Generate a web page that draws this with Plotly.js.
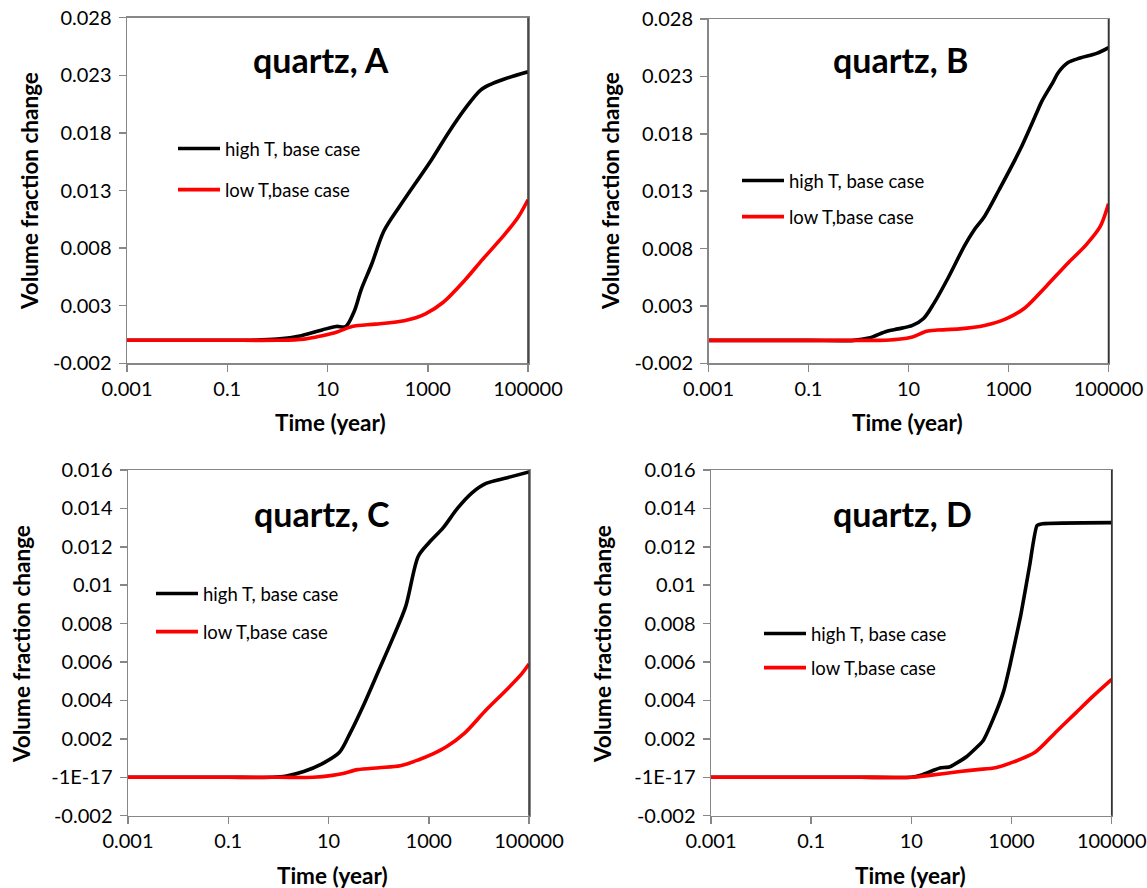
<!DOCTYPE html>
<html>
<head>
<meta charset="utf-8">
<script src="https://cdn.plot.ly/plotly-3.0.1.min.js"></script>
<style>html,body{margin:0;padding:0;background:#fff;}#chart{width:1147px;height:888px;}</style>
</head>
<body>
<div id="chart"></div>
<script>
// ---- data (time in years, volume fraction change) ----
const panelTitles = ["quartz, A", "quartz, B", "quartz, C", "quartz, D"];
const seriesNames = ["high T, base case", "low T,base case"];

const tA_high = [0.001, 0.01, 0.1, 0.3, 1, 3, 7.8, 15, 23, 34, 47, 76, 134, 282, 1200, 2570, 6000, 11200, 17600, 35000, 100000];
const vA_high = [0, 0, 0, 0, 0.0001, 0.0004, 0.0009, 0.0012, 0.0012, 0.0025, 0.0044, 0.0066, 0.0095, 0.0117, 0.0157, 0.0180, 0.0203, 0.0217, 0.0222, 0.0227, 0.0233];
const tA_low = [0.001, 0.01, 0.1, 1, 3.4, 7.8, 15, 31, 91, 340, 900, 2040, 5450, 12300, 33000, 64000, 100000];
const vA_low = [0, 0, 0, 0, 0.0001, 0.0004, 0.0007, 0.0012, 0.0014, 0.0017, 0.0023, 0.0033, 0.0052, 0.0070, 0.0091, 0.0107, 0.0122];

const tB_high = [0.001, 0.01, 0.1, 0.8, 1.6, 3.7, 6.2, 12, 20, 32, 63, 134, 204, 331, 646, 1700, 3720, 4600, 7770, 9770, 15500, 27000, 58000, 100000];
const vB_high = [0, 0, 0, 0, 0.0002, 0.0008, 0.0010, 0.0013, 0.0019, 0.0032, 0.0055, 0.0083, 0.0096, 0.0108, 0.0131, 0.0166, 0.0199, 0.0208, 0.0225, 0.0233, 0.0242, 0.0246, 0.0250, 0.0255];
const tB_low = [0.001, 0.01, 0.1, 1, 2.7, 6.2, 12, 23, 38, 105, 331, 910, 2090, 5650, 15200, 35300, 68000, 100000];
const vB_low = [0, 0, 0, 0, 0, 0.0001, 0.0003, 0.0008, 0.0009, 0.0010, 0.0013, 0.0019, 0.0028, 0.0047, 0.0067, 0.0083, 0.0099, 0.0119];

const tC_high = [0.001, 0.01, 0.1, 0.75, 1.45, 3.2, 7.4, 16.6, 27, 53, 102, 196, 347, 616, 1000, 1950, 3730, 7200, 13900, 37000, 100000];
const vC_high = [0, 0, 0, 0, 0.00007, 0.0003, 0.0007, 0.0013, 0.0023, 0.0039, 0.0056, 0.0073, 0.0089, 0.0115, 0.0122, 0.0130, 0.0140, 0.0148, 0.0153, 0.0156, 0.0159];
const tC_low = [0.001, 0.01, 0.1, 1, 5, 12, 19.5, 38, 102, 270, 616, 1180, 2290, 5190, 13900, 37000, 72000, 100000];
const vC_low = [0, 0, 0, 0, 0, 0.0001, 0.0002, 0.0004, 0.0005, 0.0006, 0.0009, 0.0012, 0.0016, 0.0023, 0.0035, 0.0046, 0.0054, 0.0059];

const tD_high = [0.001, 0.01, 0.1, 1, 10, 16, 37, 59, 126, 270, 425, 700, 925, 1520, 2290, 3220, 4150, 100000];
const vD_high = [0, 0, 0, 0, 0, 0.00012, 0.00048, 0.00055, 0.00107, 0.0019, 0.0030, 0.0045, 0.0058, 0.0084, 0.0110, 0.0131, 0.0132, 0.01326];
const tD_low = [0.001, 0.01, 0.1, 1, 10, 23, 93, 210, 480, 1100, 2950, 8000, 18300, 41500, 100000];
const vD_low = [0, 0, 0, 0, 0, 0.0001, 0.0003, 0.0004, 0.0005, 0.0008, 0.0013, 0.0024, 0.0033, 0.0042, 0.0051];

const xTickVals = [0.001, 0.1, 10, 1000, 100000];
const xTickText = ["0.001", "0.1", "10", "1000", "100000"];
const yTickValsAB = [-0.002, 0.003, 0.008, 0.013, 0.018, 0.023, 0.028];
const yTickTextAB = ["-0.002", "0.003", "0.008", "0.013", "0.018", "0.023", "0.028"];
const yTickValsCD = [-0.002, 0, 0.002, 0.004, 0.006, 0.008, 0.01, 0.012, 0.014, 0.016];
const yTickTextCD = ["-0.002", "-1E-17", "0.002", "0.004", "0.006", "0.008", "0.01", "0.012", "0.014", "0.016"];

const xTitle = "Time (year)";
const yTitle = "Volume fraction change";

// ---- figure ----
const W = 1147, H = 888;
const FONT = "Lato, 'Open Sans', sans-serif";
const px = v => v / W;
const py = v => 1 - v / H;

const panels = [
  {t: [tA_high, tA_low], v: [vA_high, vA_low], dom: [127, 528, 17.7, 363.3], yv: yTickValsAB, yt: yTickTextAB, yr: [-0.002, 0.028], title: [321, 60], leg: [173, 130], gap: 14, sm: 0.9, xt: [330, 423], ytl: [30, 191]},
  {t: [tB_high, tB_low], v: [vB_high, vB_low], dom: [708.5, 1108.5, 19, 363.3], yv: yTickValsAB, yt: yTickTextAB, yr: [-0.002, 0.028], title: [900, 60], leg: [737, 162], gap: 9, sm: 0.9, xt: [907, 423], ytl: [611, 191]},
  {t: [tC_high, tC_low], v: [vC_high, vC_low], dom: [128, 529, 470, 815.7], yv: yTickValsCD, yt: yTickTextCD, yr: [-0.002, 0.016], title: [322, 513], leg: [151, 575], gap: 11, sm: 0.8, xt: [332, 875], ytl: [21, 644]},
  {t: [tD_high, tD_low], v: [vD_high, vD_low], dom: [711, 1111.7, 470, 815.7], yv: yTickValsCD, yt: yTickTextCD, yr: [-0.002, 0.016], title: [902, 513], leg: [759, 615], gap: 7, sm: 0.45, xt: [910, 875], ytl: [602, 644]}
];

const colors = ["#000000", "#ff0000"];
const traces = [];
const layout = {
  width: W, height: H,
  margin: {l: 0, r: 0, t: 0, b: 0},
  paper_bgcolor: "#ffffff", plot_bgcolor: "#ffffff",
  font: {family: FONT, size: 18, color: "#000"},
  showlegend: true,
  annotations: [], shapes: []
};

const titleFont = {family: FONT, size: 22.5, color: "#000", weight: "bold"};

panels.forEach((p, i) => {
  const n = i === 0 ? "" : String(i + 1);
  const legName = "legend" + n;
  for (let s = 0; s < 2; s++) {
    traces.push({
      type: "scatter", mode: "lines",
      x: p.t[s], y: p.v[s],
      name: seriesNames[s],
      xaxis: "x" + n, yaxis: "y" + n,
      legend: legName,
      legendgroup: "g" + i + "_" + s,
      line: {color: colors[s], width: 3.6, shape: "spline", smoothing: s === 0 ? p.sm : 0.8}
    });
  }
  const axLine = "#878787";
  layout["xaxis" + n] = {
    type: "log", range: [-3, 5],
    domain: [px(p.dom[0]), px(p.dom[1])],
    anchor: "y" + n,
    tickvals: xTickVals, ticktext: xTickText,
    ticks: "outside", ticklen: 7, tickcolor: axLine, tickwidth: 1.5,
    ticklabeloverflow: "allow",
    showline: true, linecolor: axLine, linewidth: 1.5, mirror: true,
    showgrid: false, zeroline: false,
    tickfont: {family: FONT, size: 20, color: "#000"}
  };
  layout["yaxis" + n] = {
    range: p.yr,
    domain: [py(p.dom[3]), py(p.dom[2])],
    anchor: "x" + n,
    tickvals: p.yv, ticktext: p.yt,
    ticks: "outside", ticklen: 7, tickcolor: axLine, tickwidth: 1.5,
    ticklabelstandoff: 3,
    showline: true, linecolor: axLine, linewidth: 1.5, mirror: true,
    showgrid: false, zeroline: false,
    tickfont: {family: FONT, size: 20, color: "#000"}
  };
  layout[legName] = {
    x: px(p.leg[0]), y: py(p.leg[1]), xanchor: "left", yanchor: "top",
    xref: "paper", yref: "paper",
    bgcolor: "rgba(0,0,0,0)", borderwidth: 0,
    font: {family: FONT, size: 18.5, color: "#000"},
    traceorder: "grouped", tracegroupgap: p.gap,
    itemwidth: 42
  };
  layout.annotations.push({
    text: panelTitles[i], showarrow: false,
    xref: "paper", yref: "paper",
    x: px(p.title[0]), y: py(p.title[1]), xanchor: "center", yanchor: "middle",
    font: {family: FONT, size: 34, color: "#000", weight: "bold"}
  });
  // axis titles
  layout.annotations.push({
    text: xTitle, showarrow: false,
    xref: "paper", yref: "paper",
    x: px(p.xt[0]), y: py(p.xt[1]), xanchor: "center", yanchor: "middle",
    font: titleFont
  });
  layout.annotations.push({
    text: yTitle, showarrow: false, textangle: -90,
    xref: "paper", yref: "paper",
    x: px(p.ytl[0]), y: py(p.ytl[1]), xanchor: "center", yanchor: "middle",
    font: titleFont
  });
  layout.shapes.push({
    type: "line", xref: "x" + n + " domain", yref: "y" + n + " domain",
    x0: 1, x1: 1, y0: 0, y1: 1,
    line: {color: "#333333", width: 1.5}
  });
});

Plotly.newPlot("chart", traces, layout, {displayModeBar: false, staticPlot: true});
</script>
</body>
</html>
